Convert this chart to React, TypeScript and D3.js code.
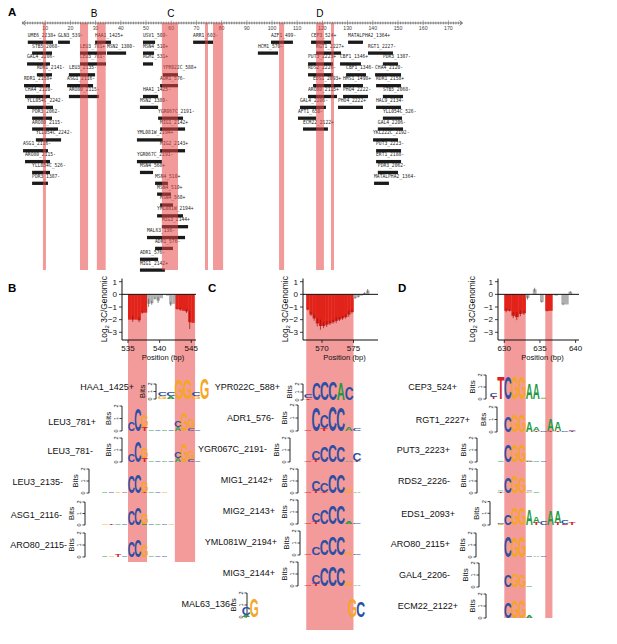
import * as d3 from 'd3';

// ---------------- Panel A: site map along the 3C fragment ----------------
const A_TICKS = [10, 20, 30, 40, 50, 60, 70, 80, 90, 100, 110, 120, 130, 140, 150, 160, 170];
const A_BANDS: [number, number][] = [
  [9.1, 10.3], [23.8, 27], [30.5, 34], [56.3, 62.7], [73.4, 74.6],
  [76.6, 80.6], [102.8, 104.8], [117.5, 120.6], [123.4, 124.6],
];
const A_TAGS: [string, number][] = [['B', 29.4], ['C', 59.9], ['D', 119]];
// label, row, start, end
const A_SITES: [string, number, number, number][] = [
  ['UME6_2238+', 0, 3.1, 13.1], ['GLN3_539-', 0, 15.1, 19.8], ['HAA1_1425+', 0, 29.8, 36.1],
  ['STB5_2068-', 1, 4.8, 12.7], ['LEU3_781+', 1, 23.8, 34.1], ['MSN2_1380-', 1, 34.5, 42.1],
  ['GAL4_2206-', 2, 2.8, 11.9], ['LEU3_781-', 2, 23.8, 34.1],
  ['RDR1_2141-', 3, 6.7, 12.7], ['LEU3_2135-', 3, 19.4, 29.8],
  ['RDR1_2158+', 4, 1.6, 11.9], ['ASG1_2116-', 4, 18.7, 29],
  ['CHA4_2120-', 5, 2, 11.9], ['ARO80_2115-', 5, 19.4, 31.3],
  ['YLL054C_2242-', 6, 2.8, 13.1], ['PDR3_2062-', 7, 4.8, 12.7],
  ['ARO80_2115-', 8, 4.8, 15.1], ['YLL054C_2242-', 9, 6.3, 16.3],
  ['ASG1_2116-', 10, 1.2, 11.1], ['ARO80_2115-', 11, 2, 11.9],
  ['YLL054C_526-', 12, 4.8, 11.9], ['PDR3_1387-', 13, 4.8, 11.1],

  ['USV1_509-', 0, 48.8, 53.6], ['ARR1_603-', 0, 68.7, 76.6], ['AZF1_499-', 0, 99.6, 108.3],
  ['MSN4_510+', 1, 48.8, 53.2], ['HCM1_570-', 1, 94.4, 102.4], ['RGM1_531+', 2, 48.8, 52.8],
  ['YPR022C_588+', 3, 56.7, 62.7], ['ADR1_576-', 4, 55.6, 62.7], ['HAA1_1425-', 5, 48.8, 54.8],
  ['MSN2_1380-', 6, 47.6, 54.8], ['YGR067C_2191-', 7, 54.8, 64.7], ['MIG1_2142+', 8, 55.6, 65.5],
  ['YML081W_2194+', 9, 46.4, 56.7], ['MIG2_2143+', 10, 55.6, 65.5], ['YGR067C_2191-', 11, 46.4, 56.3],
  ['MSN4_568+', 12, 47.6, 52.8], ['MSN4_510+', 13, 53.6, 58.7], ['MSN4_510+', 14, 54.4, 59.9],
  ['MSN4_568+', 15, 55.6, 60.7], ['YML081W_2194+', 16, 54.4, 64.7], ['MIG3_2144+', 17, 56.3, 66.7],
  ['MAL63_136-', 18, 50.4, 65.5], ['ADR1_576-', 19, 53.6, 60.7], ['ADR1_576-', 20, 47.6, 54.8],
  ['MIG1_2142+', 21, 47.6, 57.5],

  ['CEP3_524+', 0, 115.5, 123.4], ['MATALPHA2_1364+', 0, 130.2, 136.1],
  ['RGT1_2227+', 1, 117.5, 127.4], ['RGT1_2227-', 1, 138.1, 148],
  ['PUT3_2223+', 2, 114.3, 124.2], ['CBF1_1346+', 2, 127, 135.3], ['PDR3_1387-', 2, 144, 150],
  ['RDS2_2226-', 3, 114.3, 124.2], ['CBF1_1346-', 3, 129.4, 137.3], ['CHA4_2120-', 3, 140.9, 151.2],
  ['EDS1_2093+', 4, 116.3, 127.4], ['HMS1_1498+', 4, 128.2, 136.1], ['RDR1_2158+', 4, 141.3, 151.2],
  ['ARO80_2115+', 5, 114.3, 125.8], ['PHO4_2222-', 5, 128.2, 138.1], ['STB5_2068-', 5, 144, 152],
  ['GAL4_2206-', 6, 111.1, 121.4], ['PHO4_2222+', 6, 126.2, 136.1], ['HAL9_2134-', 6, 141.3, 151.2],
  ['AFT1_650-', 7, 110.3, 117.5], ['YLL054C_526-', 7, 144, 151.6],
  ['ECM22_2122+', 8, 112.3, 122.2], ['GAL4_2206-', 8, 142, 152],
  ['YKL222C_2192-', 9, 140.1, 150], ['PUT3_2223-', 10, 141.3, 151.2],
  ['ERT1_2188-', 11, 141.3, 151.2], ['PDR3_2062-', 12, 142, 150],
  ['MATALPHA2_1364-', 13, 140.5, 146.4],
];

// ---------------- Panels B-D: 3C signal per position ----------------
const B_POS = [535, 535.5, 536, 536.5, 537, 537.5, 538, 538.5, 539, 539.5, 540, 540.5, 541, 541.5, 542, 542.5, 543, 543.5, 544, 544.5, 545];
const B_VAL = [-2.0, -2.0, -2.0, -2.05, -1.45, -1.45, -0.75, -0.7, -0.35, -0.5, -0.3, 0, -0.1, -0.8, -0.75, -1.15, -1.2, -1.3, -1.35, -2.2, -2.25];
const B_ERR = [0, 0.3, 0, 0.25, 0.15, 0, 0.4, 0.2, 0.1, 0.3, 0, 0, 0, 0.2, 0, 0.1, 0.15, 0, 0.2, 0.9, 0];
const B_BANDS: [number, number][] = [[535, 538], [542.4, 545.6]];

const C_POS = [567.5, 568, 568.5, 569, 569.5, 570, 570.5, 571, 571.5, 572, 572.5, 573, 573.5, 574, 574.5, 575, 575.5, 576, 576.5, 577];
const C_VAL = [-1.2, -1.6, -1.9, -2.3, -2.5, -2.5, -2.4, -2.3, -2.2, -2.1, -2.0, -1.9, -1.8, -1.6, -1.4, -0.3, -0.2, -0.1, 0.1, 0.3];
const C_ERR = [0.1, 0.2, 0.3, 0.4, 0.5, 0.3, 0.3, 0.2, 0.2, 0.3, 0.2, 0.2, 0.2, 0.3, 0.2, 0.1, 0.1, 0, 0.1, 0.2];
const C_BANDS: [number, number][] = [[567.5, 575]];

const D_POS = [630, 630.5, 631, 631.5, 632, 632.5, 633, 633.5, 634, 634.5, 635, 635.75, 636.25, 637, 637.5, 638, 638.5, 639, 639.5];
const D_VAL = [-1.3, -1.3, -1.7, -1.8, -1.55, -1.5, -0.3, 0, 0.4, -0.05, -0.6, -1.3, -1.3, -0.1, 0, -0.8, -0.8, 0.2, 0];
const D_ERR = [0.2, 0.1, 0.3, 0.4, 0.3, 0.2, 0.2, 0, 0.2, 0, 0.1, 0.1, 0, 0, 0, 0.1, 0, 0.1, 0];
const D_BANDS: [number, number][] = [[630, 633], [635.75, 636.75]];

// ---------------- motifs (columns bottom -> top, letter + bits) ----------------
const B_NAMES = ['HAA1_1425+', 'LEU3_781+', 'LEU3_781-', 'LEU3_2135-', 'ASG1_2116-', 'ARO80_2115-'];
const B_START = [539.74, 535, 535, 530.8, 530.8, 530.8];
const B_COLW = [1.34, 1.05, 1.05, 1.05, 1.05, 1.05];
const B_COLS = [
  ['G.35 C.55', 'A.35 C.55', 'G2.7', 'G2.7', 'G.4 C.55', 'G2.9'],
  ['C.7', 'C1.8', 'T.3 G.9', 'A.05', 'C.05', 'A.05', 'C.05', 'A.3 C.5', 'G1.5', 'C.25 G.7', 'C.05'],
  ['C.7', 'C1.8', 'T.3 G.9', 'A.05', 'C.05', 'A.05', 'C.05', 'A.3 C.5', 'G1.5', 'C.25 G.7', 'C.05'],
  ['A.03', 'C.03', 'G.03', 'T.03', 'C1.4', 'C1.6', 'T.1 G.9', 'A.05', 'C.04', 'G.03'],
  ['G.03', 'T.15', 'A.03', 'C.05', 'C1.3', 'C1.5', 'A.1 G.9', 'C.05', 'A.03', 'C.03', 'G.02'],
  ['A.03', 'G.03', 'T.2', 'C.03', 'C1.3', 'C1.4', 'G1.0', 'A.05', 'C.03', 'C.02'],
];

const C_NAMES = ['YPR022C_588+', 'ADR1_576-', 'YGR067C_2191-', 'MIG1_2142+', 'MIG2_2143+', 'YML081W_2194+', 'MIG3_2144+', 'MAL63_136-'];
const C_START = [567.15, 567.1, 567.1, 567.1, 567.1, 567.1, 567.1, 557.3];
const C_COLW = [1.3, 1.3, 1.3, 1.3, 1.3, 1.3, 1.3, 1.3];
const C_COLS = [
  ['T.2 C.4', 'C2.2', 'C2.3', 'C2.3', 'A2.2', 'C1.6'],
  ['T.05', 'C1.8', 'T.2 C1.0', 'C1.9', 'C1.8', 'A.3', 'C.15'],
  ['T.05', 'T.2 C.8', 'C1.3', 'C1.4', 'C1.3', 'A.1', 'T.1 C.6'],
  ['T.05', 'T.2 C.9', 'T.1 C.8', 'C1.5', 'C1.6', 'G.3', 'A.1'],
  ['T.05', 'T.2 C.8', 'C1.2', 'C1.6', 'C1.6', 'A.2', 'C.1'],
  ['T.05', 'C.7', 'C1.3', 'C1.6', 'C1.6', 'G.2', 'C.1'],
  ['T.05', 'T.2 C.8', 'C1.6', 'C1.7', 'C1.6', 'G.3', 'A.1'],
  ['A.2 C.6', 'G1.6', '', '', '', '', '', '', '', '', '', '', '', 'G1.5', 'C1.3'],
];

const D_NAMES = ['CEP3_524+', 'RGT1_2227+', 'PUT3_2223+', 'RDS2_2226-', 'EDS1_2093+', 'ARO80_2115+', 'GAL4_2206-', 'ECM22_2122+'];
const D_START = [628, 630, 629, 629, 629, 630, 630, 630];
const D_COLS = [
  ['T.2 C.3', 'T1.9', 'C1.85', 'G1.85', 'G1.85', 'A1.3', 'A1.3', 'G.05 A.05'],
  ['C1.3', 'G1.4', 'G1.4', 'A.8', 'T.1 A.3', 'C.1', 'T.1 A1.0', 'T.1 A.7', 'C.1', 'T.1 C.1'],
  ['A.03', 'C1.4', 'G1.4', 'G1.4', 'C.1 G.1', 'A.05', 'C.03'],
  ['T.15 A.05', 'C1.3', 'G1.4', 'G1.3', 'G.15 C.05', 'A.03'],
  ['G.1 C.15', 'C.9', 'G1.5', 'G1.5', 'A1.4', 'T.2 A.6', 'C.3', 'A1.3', 'T.2 A1.0', 'T.1 C.3', 'T.2'],
  ['C1.8', 'G1.7', 'G1.8', 'C.03', 'A.1', 'C.05'],
  ['C1.0', 'G1.1', 'G1.0', 'A.05'],
  ['C1.3', 'G1.4', 'G1.4', 'A.2'],
];

// ---------------- layout ----------------
type RowLayout = { labelY: number; labelRight: number; axisX: number; base: number; bitPx: number };
const B_LAYOUT: RowLayout[] = [
  { labelY: 387, labelRight: 134, axisX: 156, base: 399, bitPx: 7.5 },
  { labelY: 422, labelRight: 96, axisX: 122, base: 431, bitPx: 12.5 },
  { labelY: 451, labelRight: 93, axisX: 122, base: 462, bitPx: 12 },
  { labelY: 482, labelRight: 63, axisX: 89, base: 493, bitPx: 12 },
  { labelY: 515, labelRight: 62, axisX: 85, base: 525, bitPx: 11.5 },
  { labelY: 545, labelRight: 67, axisX: 85, base: 557, bitPx: 12 },
];
const C_LAYOUT: RowLayout[] = [
  { labelY: 387, labelRight: 280, axisX: 303, base: 400, bitPx: 8 },
  { labelY: 418, labelRight: 274, axisX: 298, base: 431, bitPx: 13 },
  { labelY: 449, labelRight: 267, axisX: 290, base: 462, bitPx: 12 },
  { labelY: 480, labelRight: 273, axisX: 298, base: 493, bitPx: 12 },
  { labelY: 511, labelRight: 275, axisX: 298, base: 524, bitPx: 12 },
  { labelY: 542, labelRight: 277, axisX: 300, base: 555, bitPx: 12 },
  { labelY: 573, labelRight: 275, axisX: 298, base: 586, bitPx: 12 },
  { labelY: 604, labelRight: 233, axisX: 247, base: 617, bitPx: 12 },
];
const D_LAYOUT: RowLayout[] = [
  { labelY: 387, labelRight: 457, axisX: 486, base: 399, bitPx: 12 },
  { labelY: 420, labelRight: 470, axisX: 497, base: 432, bitPx: 12.5 },
  { labelY: 450, labelRight: 450, axisX: 477, base: 462, bitPx: 12 },
  { labelY: 481, labelRight: 450, axisX: 477, base: 493, bitPx: 12 },
  { labelY: 514, labelRight: 455, axisX: 490, base: 525, bitPx: 11.7 },
  { labelY: 544, labelRight: 450, axisX: 476, base: 557, bitPx: 12 },
  { labelY: 575, labelRight: 450, axisX: 479, base: 587, bitPx: 12 },
  { labelY: 606, labelRight: 458, axisX: 486, base: 618, bitPx: 12 },
];

const SANS = "'Liberation Sans', Arial, Helvetica, sans-serif";
const MONO = "'DejaVu Sans Mono', 'Liberation Mono', monospace";
const LETTER_COLOR: Record<string, string> = { A: '#1F9A3E', C: '#2C4EA3', G: '#F6A623', T: '#D8232A' };
const INK: Record<string, number> = { A: 0.7, C: 0.64, G: 0.68, T: 0.58 };
const CAP = 0.72;
const BAND_LIGHT = '#F39B9A';
const RED = '#E2231A';
const GREY = '#AFAFAF';

const yBar = d3.scaleLinear().domain([1, -3]).range([281.7, 332.3]);
const BAR_BOTTOM = 340;

function Logo({ x, start, colW, cols, base, bitPx, k }: any) {
  const out: any[] = [];
  cols.forEach((c: string, i: number) => {
    const x0 = x(start + i * colW);
    const x1 = x(start + (i + 1) * colW);
    const w = x1 - x0;
    let y = base;
    c.split(' ').filter(Boolean).forEach((tok, j) => {
      const l = tok[0];
      const h = +tok.slice(1) * bitPx;
      if (h < 1.2) {
        // too small for a glyph: a thin coloured stroke, as in the logo plots
        out.push(<rect key={`${k}-${i}-${j}`} x={x0 + 0.8} width={w - 1.6} y={y - Math.max(h, 0.6)} height={Math.max(h, 0.6)} fill={LETTER_COLOR[l]} opacity={0.8} />);
      } else {
        const sx = (w * 0.96) / (INK[l] * 100);
        const sy = h / (CAP * 100);
        out.push(
          <text key={`${k}-${i}-${j}`} transform={`translate(${(x0 + x1) / 2},${y}) scale(${sx},${sy})`}
            textAnchor="middle" fontSize={100} fontWeight="bold" fontFamily={SANS} fill={LETTER_COLOR[l]}>{l}</text>
        );
      }
      y -= h;
    });
  });
  return <g>{out}</g>;
}

function MotifRow({ name, L, x, start, colW, cols, k }: any) {
  const yb = d3.scaleLinear().domain([0, 2]).range([L.base, L.base - 2 * L.bitPx]);
  return (
    <g>
      <text x={L.labelRight} y={L.labelY + 3.2} textAnchor="end" fontSize={9} fontFamily={SANS} fill="#111">{name}</text>
      <text transform={`translate(${L.axisX - 11},${yb(1)}) rotate(-90)`} textAnchor="middle" fontSize={8} fontFamily={SANS} fill="#111">Bits</text>
      <line x1={L.axisX} x2={L.axisX} y1={yb(2)} y2={yb(0)} stroke="#111" strokeWidth={0.9} />
      {[0, 1, 2].map((t) => (
        <g key={t}>
          <line x1={L.axisX - 2.5} x2={L.axisX} y1={yb(t)} y2={yb(t)} stroke="#111" strokeWidth={0.8} />
          <text transform={`translate(${L.axisX - 4},${yb(t)}) rotate(-90)`} textAnchor="middle" fontSize={5.5} fontFamily={SANS} fill="#111">{t}</text>
        </g>
      ))}
      <Logo x={x} start={start} colW={colW} cols={cols} base={L.base} bitPx={L.bitPx} k={k} />
    </g>
  );
}

function BarPanel({ x, pos, val, err, bands, axisX, xEnd, ticks, ylabX }: any) {
  const inBand = (p: number) => bands.some(([a, b]: number[]) => p >= a - 0.01 && p < b - 0.01);
  const w = x(pos[0] + 0.5) - x(pos[0]);
  return (
    <g>
      {pos.map((p: number, i: number) => {
        const v = val[i];
        if (v === 0) return null;
        const red = inBand(p);
        const y0 = yBar(0), y1 = yBar(v);
        return <rect key={p} x={x(p)} width={w + 0.2} y={Math.min(y0, y1)} height={Math.abs(y1 - y0)} fill={red ? RED : GREY} />;
      })}
      {pos.map((p: number, i: number) => {
        const e = err[i];
        if (!e) return null;
        const v = val[i];
        const red = inBand(p);
        return <line key={'e' + p} x1={x(p + 0.25)} x2={x(p + 0.25)} y1={yBar(v - Math.sign(v || 1) * e)} y2={yBar(v + Math.sign(v || 1) * e * 0.6)}
          stroke={red ? '#8A1010' : '#555'} strokeWidth={0.7} />;
      })}
      <line x1={axisX} x2={xEnd} y1={yBar(0)} y2={yBar(0)} stroke="#111" strokeWidth={1} />
      <line x1={axisX} x2={axisX} y1={yBar(1.25)} y2={BAR_BOTTOM} stroke="#111" strokeWidth={1} />
      <line x1={axisX} x2={xEnd} y1={BAR_BOTTOM} y2={BAR_BOTTOM} stroke="#111" strokeWidth={1} />
      {[1, 0, -1, -2, -3].map((t) => (
        <g key={t}>
          <line x1={axisX - 3} x2={axisX} y1={yBar(t)} y2={yBar(t)} stroke="#111" strokeWidth={0.8} />
          <text x={axisX - 5} y={yBar(t) + 2.8} textAnchor="end" fontSize={8} fontFamily={SANS} fill="#111">{t < 0 ? `\u2212${-t}` : t}</text>
        </g>
      ))}
      {ticks.map((t: number) => (
        <g key={t}>
          <line x1={x(t)} x2={x(t)} y1={BAR_BOTTOM} y2={BAR_BOTTOM + 3} stroke="#111" strokeWidth={0.8} />
          <text x={x(t)} y={BAR_BOTTOM + 11} textAnchor="middle" fontSize={8} fontFamily={SANS} fill="#111">{t}</text>
        </g>
      ))}
      <text x={(axisX + xEnd) / 2 + 4} y={BAR_BOTTOM + 20} textAnchor="middle" fontSize={7.6} fontFamily={SANS} fill="#111">Position (bp)</text>
      <text transform={`translate(${ylabX},${(yBar(1.25) + BAR_BOTTOM) / 2}) rotate(-90)`} textAnchor="middle" fontSize={8.4} fontFamily={SANS} fill="#111">
        <tspan>Log</tspan><tspan fontSize={6} dy={2}>2</tspan><tspan dy={-2}> 3C/Genomic</tspan>
      </text>
    </g>
  );
}

export default function App() {
  const xA = d3.scaleLinear().domain([0, 170]).range([20, 448.4]);
  const rowY = (r: number) => 36.7 + r * 10.85;
  const minor = d3.range(1, 176);

  const xB = d3.scaleLinear().domain([535, 545]).range([128, 191.3]);
  const xC = d3.scaleLinear().domain([570, 575]).range([322, 353.5]);
  const xD = d3.scaleLinear().domain([630, 640]).range([504.3, 575.6]);

  const lowerBands = (x: any, bands: [number, number][], bottom: number, key: string) =>
    bands.map(([a, b], i) => (
      <rect key={key + i} x={x(a)} width={x(b) - x(a)} y={yBar(0)} height={bottom - yBar(0)} fill={BAND_LIGHT} />
    ));

  return (
    <svg width={617} height={644} viewBox="0 0 617 644" style={{ position: 'absolute', left: 0, top: 0, background: '#fff' }}>
      <rect width={617} height={644} fill="#fff" />

      {/* ---------- Panel A ---------- */}
      <text x={8} y={16} fontSize={11.5} fontWeight="bold" fontFamily={SANS}>A</text>
      {A_TAGS.map(([t, v]) => (
        <text key={t} x={xA(v)} y={17} textAnchor="middle" fontSize={10} fontFamily={SANS}>{t}</text>
      ))}
      <line x1={xA(1)} x2={xA(175.6)} y1={23} y2={23} stroke="#555" strokeWidth={0.7} />
      {minor.map((m) => (
        <line key={m} x1={xA(m)} x2={xA(m)} y1={m % 10 === 0 ? 20.5 : 21.6} y2={m % 10 === 0 ? 25 : 24.4} stroke="#555" strokeWidth={0.6} />
      ))}
      <path d={`M${xA(175.6) - 3},20.5 L${xA(175.6)},23 L${xA(175.6) - 3},25.5`} fill="none" stroke="#555" strokeWidth={0.7} />
      <path d={`M${xA(1) + 3},20.5 L${xA(1)},23 L${xA(1) + 3},25.5`} fill="none" stroke="#555" strokeWidth={0.7} />
      {A_TICKS.map((t) => (
        <text key={t} x={xA(t)} y={30} textAnchor="middle" fontSize={5.2} fontFamily={SANS} fill="#444">{t}</text>
      ))}
      {A_SITES.map(([lab, r, s, e], i) => (
        <g key={i}>
          <text x={xA(s)} y={rowY(r)} fontSize={5.6} fontFamily={MONO} fill="#222"
            textLength={lab.length * 2.8} lengthAdjust="spacingAndGlyphs">{lab}</text>
          <rect x={xA(s)} y={rowY(r) + 3.9} width={xA(e) - xA(s)} height={3.3} fill="#1a1a1a" />
        </g>
      ))}
      {A_BANDS.map(([a, b], i) => (
        <rect key={'ab' + i} x={xA(a)} width={xA(b) - xA(a)} y={23} height={247} fill="#E84646" opacity={0.55} />
      ))}

      {/* ---------- Panel B ---------- */}
      <text x={8} y={292} fontSize={11.5} fontWeight="bold" fontFamily={SANS}>B</text>
      {lowerBands(xB, B_BANDS, 562, 'bb')}
      <BarPanel x={xB} pos={B_POS} val={B_VAL} err={B_ERR} bands={B_BANDS} axisX={122} xEnd={196} ticks={[535, 540, 545]} ylabX={107} />
      {B_NAMES.map((n, i) => (
        <MotifRow key={n + i} k={'b' + i} name={n} L={B_LAYOUT[i]} x={xB} start={B_START[i]} colW={B_COLW[i]} cols={B_COLS[i]} />
      ))}

      {/* ---------- Panel C ---------- */}
      <text x={208} y={292} fontSize={11.5} fontWeight="bold" fontFamily={SANS}>C</text>
      {lowerBands(xC, C_BANDS, 630, 'cb')}
      <BarPanel x={xC} pos={C_POS} val={C_VAL} err={C_ERR} bands={C_BANDS} axisX={303} xEnd={378} ticks={[570, 575]} ylabX={288} />
      {C_NAMES.map((n, i) => (
        <MotifRow key={n + i} k={'c' + i} name={n} L={C_LAYOUT[i]} x={xC} start={C_START[i]} colW={C_COLW[i]} cols={C_COLS[i]} />
      ))}

      {/* ---------- Panel D ---------- */}
      <text x={398} y={292} fontSize={11.5} fontWeight="bold" fontFamily={SANS}>D</text>
      {lowerBands(xD, D_BANDS, 618, 'db')}
      <BarPanel x={xD} pos={D_POS} val={D_VAL} err={D_ERR} bands={D_BANDS} axisX={498} xEnd={579} ticks={[630, 635, 640]} ylabX={475} />
      {D_NAMES.map((n, i) => (
        <MotifRow key={n + i} k={'d' + i} name={n} L={D_LAYOUT[i]} x={xD} start={D_START[i]} colW={1} cols={D_COLS[i]} />
      ))}
    </svg>
  );
}
